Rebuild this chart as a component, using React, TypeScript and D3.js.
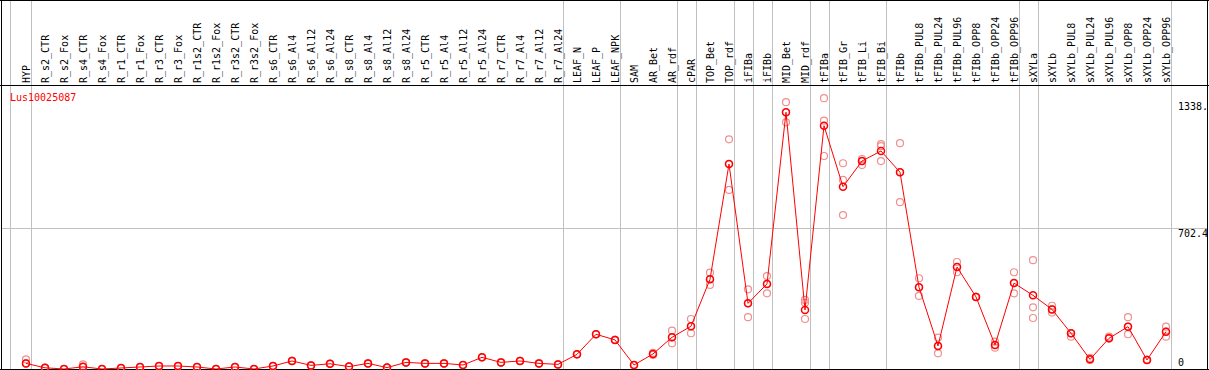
import React from "react";
import * as d3 from "d3";

const categories = [
  "HYP","R_s2_CTR","R_s2_Fox","R_s4_CTR","R_s4_Fox","R_r1_CTR","R_r1_Fox","R_r3_CTR","R_r3_Fox",
  "R_r1s2_CTR","R_r1s2_Fox","R_r3s2_CTR","R_r3s2_Fox","R_s6_CTR","R_s6_Al4","R_s6_Al12","R_s6_Al24",
  "R_s8_CTR","R_s8_Al4","R_s8_Al12","R_s8_Al24","R_r5_CTR","R_r5_Al4","R_r5_Al12","R_r5_Al24",
  "R_r7_CTR","R_r7_Al4","R_r7_Al12","R_r7_Al24","LEAF_N","LEAF_P","LEAF_NPK","SAM","AR_Bet","AR_rdf",
  "cPAR","TOP_Bet","TOP_rdf","iFIBa","iFIBb","MID_Bet","MID_rdf","tFIBa","tFIB_Gr","tFIB_Li","tFIB_Bi",
  "tFIBb","tFIBb_PUL8","tFIBb_PUL24","tFIBb_PUL96","tFIBb_OPP8","tFIBb_OPP24","tFIBb_OPP96","sXYLa",
  "sXYLb","sXYLb_PUL8","sXYLb_PUL24","sXYLb_PUL96","sXYLb_OPP8","sXYLb_OPP24","sXYLb_OPP96",
];

const meanValues = [
  28,6,0,11,0,5,10,15,15,10,0,10,0,15,40,18,26,12,28,7,33,28,28,20,58,33,40,28,23,73,173,145,20,75,158,
  213,447,1021,327,424,1279,294,1212,908,1036,1086,980,407,115,508,359,120,428,367,297,178,48,153,211,45,186,
];

const rep1 = [
  48,6,0,23,0,5,10,15,15,10,0,10,0,15,40,18,26,12,28,7,33,28,28,20,58,33,40,28,23,73,173,145,20,80,191,
  249,480,1144,397,463,1329,344,1349,1025,1046,1120,1125,452,156,533,359,136,482,542,315,161,55,161,258,45,211,
];

const rep2 = [
  28,6,0,11,0,5,10,15,15,10,0,10,0,15,40,18,26,12,28,7,33,28,28,20,58,33,40,28,23,73,173,145,20,70,128,
  178,419,892,258,377,1229,249,1237,942,1016,1036,831,364,78,482,359,106,377,307,281,178,45,153,173,45,161,
];

const rep3 = [
  28,6,0,11,0,5,10,15,15,10,0,10,0,15,40,18,26,12,28,7,33,28,28,20,58,33,40,28,23,73,173,145,20,75,158,
  213,447,1021,327,424,1279,330,1061,767,1036,1110,980,407,115,508,359,120,428,254,297,178,48,153,211,45,186,
];

// group separators drawn after these category indices
const groupEnds = [0, 28, 31, 34, 35, 37, 38, 39, 41, 42, 45, 52, 53, 60];

const tickValues = [0, 702.4, 1338];
const tickLabels = ["0", "702.4", "1338."];

const geneName = "Lus10025087";

const W = 1209;
const H = 370;
const HEADER = 85;
const FONT = "'DejaVu Sans Mono', monospace";

export default function App() {
  const x = d3.scalePoint<string>().domain(categories).range([26, 1166]);
  const y = d3.scaleLinear().domain([0, 1338]).range([369, 100.4]);
  const step = x.step();

  const line = d3
    .line<number>()
    .x((_, i) => x(categories[i]) as number)
    .y((d) => y(d));

  const reps = [rep1, rep2, rep3];

  return (
    <svg
      width={W}
      height={H}
      style={{ position: "absolute", left: 0, top: 0, background: "#fff" }}
      fontFamily={FONT}
    >
      <rect x={0} y={0} width={W} height={H} fill="#fff" />
      {/* vertical group separators */}
      <line
        x1={Math.round((x(categories[0]) as number) - 16) + 0.5}
        x2={Math.round((x(categories[0]) as number) - 16) + 0.5}
        y1={0}
        y2={H}
        stroke="#c0c0c0"
        strokeWidth={1}
      />
      {groupEnds.map((gi) => {
        const gx = Math.round((x(categories[gi]) as number) + step / 4) + 0.5;
        return <line key={gi} x1={gx} x2={gx} y1={0} y2={H} stroke="#c0c0c0" strokeWidth={1} />;
      })}
      {/* horizontal grid */}
      <line x1={1} x2={1208} y1={Math.round(y(702.4)) + 0.5} y2={Math.round(y(702.4)) + 0.5} stroke="#c0c0c0" />
      {/* borders */}
      <line x1={0} x2={W} y1={0.5} y2={0.5} stroke="#000" />
      <line x1={0} x2={W} y1={HEADER + 0.5} y2={HEADER + 0.5} stroke="#000" />
      <line x1={1.5} x2={1.5} y1={0} y2={H} stroke="#000" />
      <line x1={1207.5} x2={1207.5} y1={0} y2={H} stroke="#000" />
      <line x1={0} x2={W} y1={369.5} y2={369.5} stroke="#000" />
      {/* header labels */}
      {categories.map((c) => {
        const cx = x(c) as number;
        return (
          <text
            key={c}
            transform={`translate(${cx},83) rotate(-90)`}
            dy="0.35em"
            fontSize={10}
            fill="#000"
          >
            {c}
          </text>
        );
      })}
      {/* replicate points */}
      {reps.map((r, ri) =>
        r.map((v, i) => (
          <circle
            key={`r${ri}-${i}`}
            cx={x(categories[i]) as number}
            cy={y(v)}
            r={3.5}
            fill="none"
            stroke="#f09090"
            strokeWidth={1.2}
          />
        ))
      )}
      {/* mean line */}
      <path d={line(meanValues) || ""} fill="none" stroke="#ff0000" strokeWidth={1} />
      {meanValues.map((v, i) => (
        <circle
          key={`m${i}`}
          cx={x(categories[i]) as number}
          cy={y(v)}
          r={3.5}
          fill="none"
          stroke="#ff0000"
          strokeWidth={1.5}
        />
      ))}
      {/* gene name */}
      <text x={10} y={101} fontSize={10} fill="#ff0000">
        {geneName}
      </text>
      {/* y tick labels */}
      {tickValues.map((t, i) => (
        <text key={t} x={1178} y={Math.min(y(t) + 9.5, 366)} fontSize={10} fill="#000">
          {tickLabels[i]}
        </text>
      ))}
    </svg>
  );
}
